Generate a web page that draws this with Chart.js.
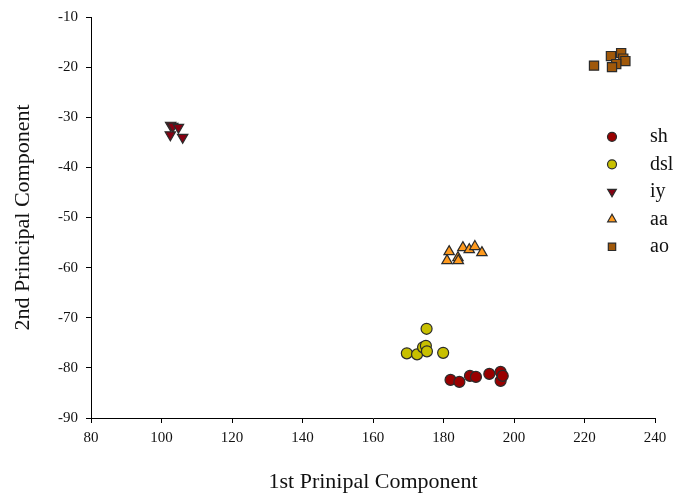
<!DOCTYPE html>
<html>
<head>
<meta charset="utf-8">
<script src="https://cdn.jsdelivr.net/npm/chart.js@4/dist/chart.umd.min.js"></script>
<style>
html,body{margin:0;padding:0;background:#fff;}
#wrap{width:693px;height:500px;position:relative;}
</style>
</head>
<body>
<div id="wrap"><canvas id="c" width="693" height="500"></canvas></div>
<script>
// ---- data ----
const seriesNames = ["sh", "dsl", "iy", "aa", "ao"];
const shX = [182, 184.5, 187.5, 189.2, 193, 196.2, 196.2, 196.8];
const shY = [-82.4, -82.8, -81.6, -81.8, -81.2, -80.8, -82.6, -81.6];
const dslX = [175.2, 169.6, 172.5, 174.2, 175.0, 175.3, 179.9];
const dslY = [-72.2, -77.1, -77.3, -75.9, -75.6, -76.7, -77.0];
const iyX = [102.6, 103.2, 104.8, 102.5, 106.0];
const iyY = [-31.6, -31.8, -32.0, -33.5, -34.0];
const aaX = [181.6, 185.5, 187.3, 188.9, 190.9, 181.0, 184.1, 184.2];
const aaY = [-56.8, -56.0, -56.4, -55.8, -57.0, -58.6, -58.0, -58.6];
const aoX = [222.7, 227.5, 230.4, 231.0, 231.6, 229.0, 227.8];
const aoY = [-19.7, -17.8, -17.2, -18.3, -18.8, -19.4, -20.0];
const xTicks = [80, 100, 120, 140, 160, 180, 200, 220, 240];
const yTicks = [-90, -80, -70, -60, -50, -40, -30, -20, -10];

const pts = (xs, ys) => xs.map((x, i) => ({x: x, y: ys[i]}));
const FONT = "'Liberation Serif', 'Times New Roman', serif";
const EDGE = '#2b2b2b';

const styles = [
  {color: '#990000', style: 'circle', radius: 5.5, rotation: 0, lr: 4.5},
  {color: '#C8C000', style: 'circle', radius: 5.5, rotation: 0, lr: 4.5},
  {color: '#850012', style: 'triangle', radius: 6, rotation: 180, lr: 5},
  {color: '#FF9A1E', style: 'triangle', radius: 6, rotation: 0, lr: 5},
  {color: '#A0580A', style: 'rect', radius: 6.5, rotation: 0, lr: 5.2}
];
const raw = [[shX, shY], [dslX, dslY], [iyX, iyY], [aaX, aaY], [aoX, aoY]];

const datasets = raw.map((r, i) => ({
  label: seriesNames[i],
  data: pts(r[0], r[1]),
  backgroundColor: styles[i].color,
  borderColor: EDGE,
  borderWidth: 1.2,
  pointStyle: styles[i].style,
  pointRadius: styles[i].radius,
  pointRotation: styles[i].rotation,
  pointHoverRadius: styles[i].radius,
  clip: false
}));

function drawShape(ctx, s, x, y) {
  const r = s.lr;
  if (s.style === 'circle') {
    ctx.arc(x, y, r, 0, Math.PI * 2);
  } else if (s.style === 'rect') {
    const h = r * Math.SQRT1_2;
    ctx.rect(x - h, y - h, 2 * h, 2 * h);
  } else {
    const dir = s.rotation === 180 ? -1 : 1;
    const w = r * 0.866;
    ctx.moveTo(x, y - dir * r);
    ctx.lineTo(x - w, y + dir * r * 0.5);
    ctx.lineTo(x + w, y + dir * r * 0.5);
    ctx.closePath();
  }
}

const legendPlugin = {
  id: 'customLegend',
  afterDraw(chart) {
    const ctx = chart.ctx;
    const x0 = 612, tx = 650, y0 = 136.8, dy = 27.5;
    ctx.save();
    seriesNames.forEach((name, i) => {
      const y = y0 + i * dy;
      ctx.fillStyle = styles[i].color;
      ctx.strokeStyle = EDGE;
      ctx.lineWidth = 1.2;
      ctx.beginPath();
      drawShape(ctx, styles[i], x0, y);
      ctx.fill();
      ctx.stroke();
      ctx.fillStyle = '#111';
      ctx.font = "20px " + FONT;
      ctx.textAlign = 'left';
      ctx.textBaseline = 'middle';
      ctx.fillText(name, tx, y);
    });
    ctx.restore();
  }
};

new Chart(document.getElementById('c'), {
  type: 'scatter',
  data: {datasets: datasets},
  plugins: [legendPlugin],
  options: {
    responsive: false,
    animation: false,
    devicePixelRatio: 1,
    layout: {padding: {left: 0, right: 38, top: 14, bottom: 0}},
    plugins: {legend: {display: false}, tooltip: {enabled: false}},
    scales: {
      x: {
        type: 'linear', min: 80, max: 240,
        afterBuildTicks: (s) => { s.ticks = xTicks.map(v => ({value: v})); },
        afterFit: (s) => { s.height = 82; },
        ticks: {color: '#111', font: {family: FONT, size: 15}, padding: 6, maxRotation: 0},
        grid: {drawOnChartArea: false, drawTicks: true, tickLength: 5, color: '#000', lineWidth: 1},
        border: {color: '#000', width: 1},
        title: {display: true, text: '1st Prinipal Component', color: '#111',
                font: {family: FONT, size: 22}, padding: {top: 0, bottom: 5}}
      },
      y: {
        type: 'linear', min: -90, max: -10,
        afterBuildTicks: (s) => { s.ticks = yTicks.map(v => ({value: v})); },
        afterFit: (s) => { s.width = 91; },
        ticks: {color: '#111', font: {family: FONT, size: 15}, padding: 8},
        grid: {drawOnChartArea: false, drawTicks: true, tickLength: 5, color: '#000', lineWidth: 1},
        border: {color: '#000', width: 1},
        title: {display: true, text: '2nd Principal Component', color: '#111',
                font: {family: FONT, size: 22}, padding: {top: 10, bottom: 0}}
      }
    }
  }
});
</script>
</body>
</html>
